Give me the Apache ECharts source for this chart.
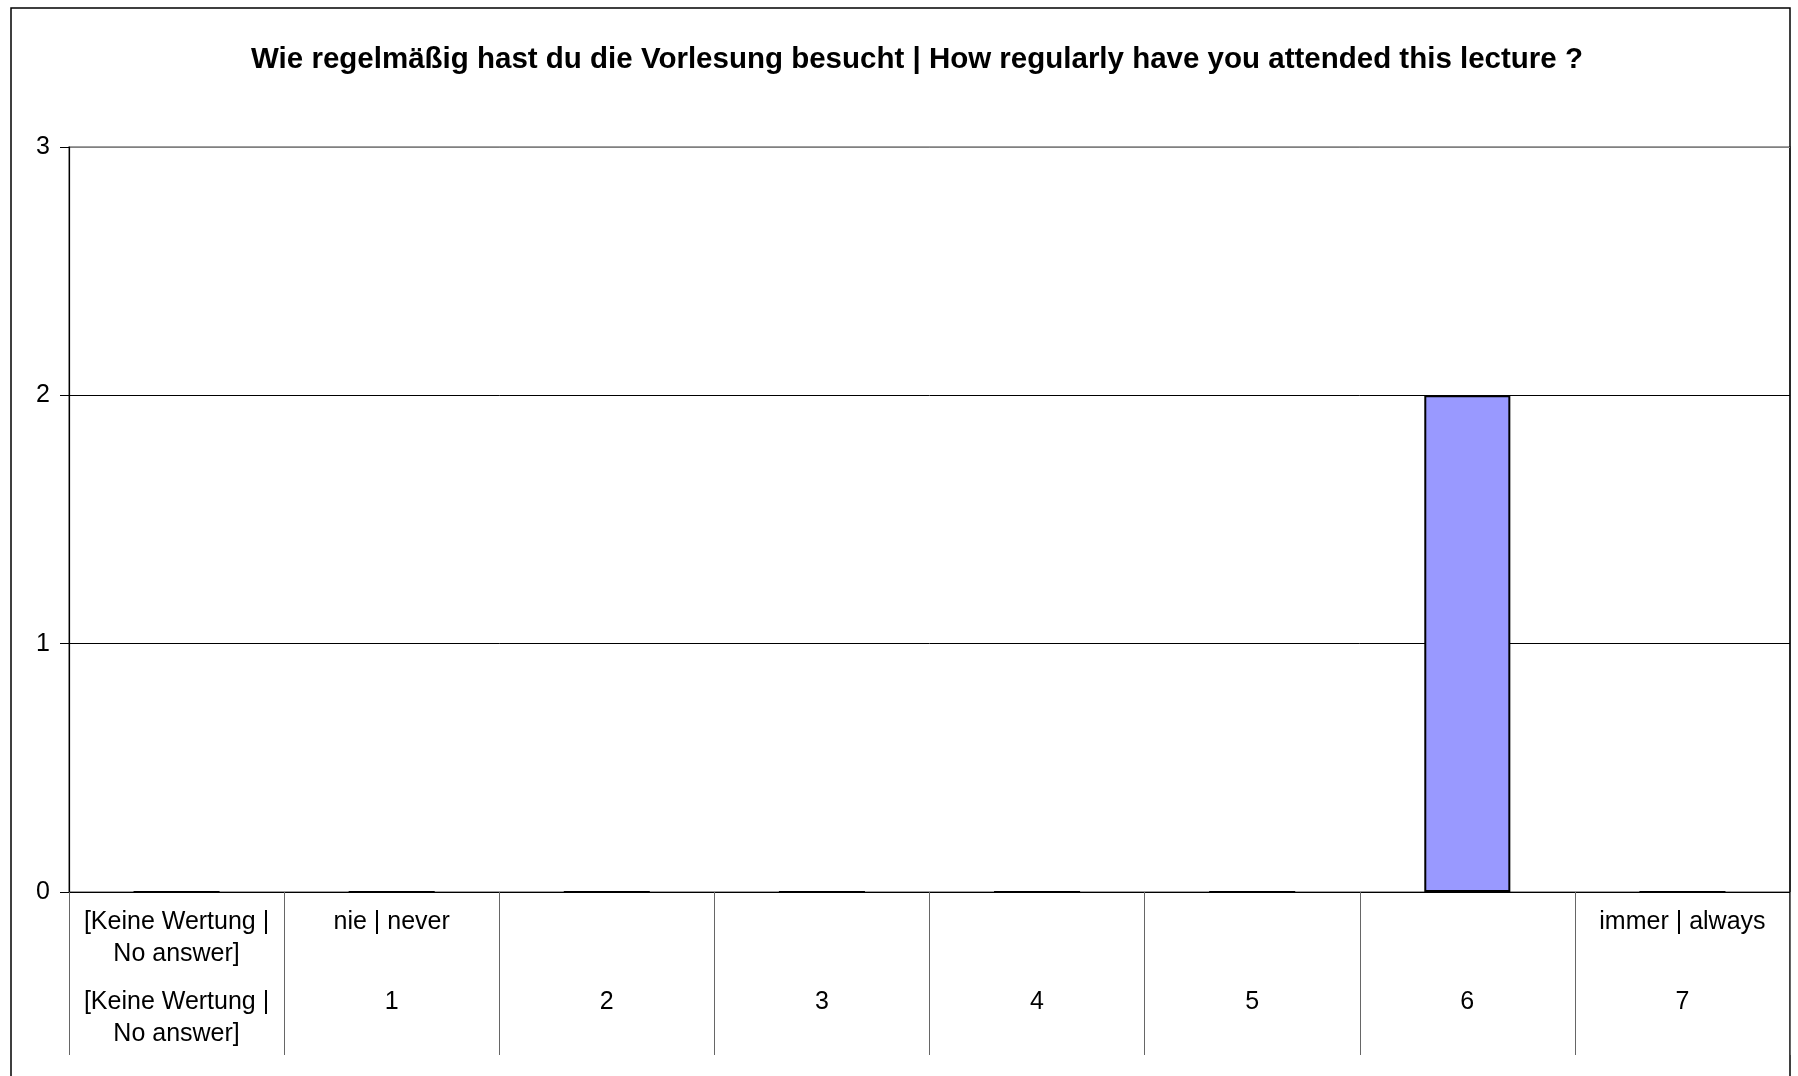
<!DOCTYPE html>
<html><head><meta charset="utf-8">
<script src="https://cdn.jsdelivr.net/npm/echarts@6/dist/echarts.min.js"></script>
<style>html,body{margin:0;padding:0;background:#fff}#c{width:1798px;height:1076px}</style>
</head><body><div id="c"></div>
<script>
const titleText = 'Wie regelmäßig hast du die Vorlesung besucht | How regularly have you attended this lecture ?';
const categories = ['k.A.', '1', '2', '3', '4', '5', '6', '7'];
const topLabels = ['[Keine Wertung |\nNo answer]', 'nie | never', '', '', '', '', '', 'immer | always'];
const bottomLabels = ['[Keine Wertung |\nNo answer]', '1', '2', '3', '4', '5', '6', '7'];
const counts = [0, 0, 0, 0, 0, 0, 2, 0];
const yMin = 0, yMax = 3, yStep = 1;

const FONT = "'Liberation Sans', Arial, sans-serif";
const chart = echarts.init(document.getElementById('c'), null, {renderer: 'canvas'});
chart.setOption({
  backgroundColor: '#fff',
  animation: false,
  title: {
    text: titleText,
    left: 912, top: 40, textAlign: 'center',
    textStyle: {fontFamily: FONT, fontWeight: 'bold', fontSize: 29.5, color: '#000'}
  },
  graphic: [{
    type: 'rect', silent: true,
    shape: {x: 11, y: 8, width: 1779, height: 1100},
    style: {fill: 'none', stroke: '#000', lineWidth: 1.5}
  }],
  grid: {left: 69, right: 8, top: 147, bottom: 184, show: true, borderColor: '#808080', borderWidth: 1.5},
  xAxis: [{
    type: 'category', data: categories, position: 'bottom',
    axisLine: {show: true, lineStyle: {color: '#000', width: 1.2}},
    axisTick: {show: true, length: 163, lineStyle: {color: '#666', width: 1}},
    axisLabel: {
      interval: 0, margin: 14,
      formatter: (v, i) => topLabels[i],
      fontFamily: FONT, fontSize: 25, lineHeight: 32, color: '#000'
    }
  }, {
    type: 'category', data: categories, position: 'bottom', offset: 80,
    axisLine: {show: false}, axisTick: {show: false},
    axisLabel: {
      interval: 0, margin: 14,
      formatter: (v, i) => bottomLabels[i],
      fontFamily: FONT, fontSize: 25, lineHeight: 32, color: '#000'
    }
  }],
  yAxis: {
    type: 'value', min: yMin, max: yMax, interval: yStep,
    axisLine: {show: true, lineStyle: {color: '#000', width: 1.2}},
    axisTick: {show: true, length: 9, lineStyle: {color: '#000'}},
    axisLabel: {margin: 19, fontFamily: FONT, fontSize: 25, color: '#000'},
    splitLine: {show: true, lineStyle: {color: ['#000', '#000', '#000', '#808080'], width: 1}}
  },
  series: [{
    type: 'bar', xAxisIndex: 0, data: counts, barWidth: '40%',
    itemStyle: {color: '#9999FF', borderColor: '#000', borderWidth: 2}
  }]
});
</script></body></html>
